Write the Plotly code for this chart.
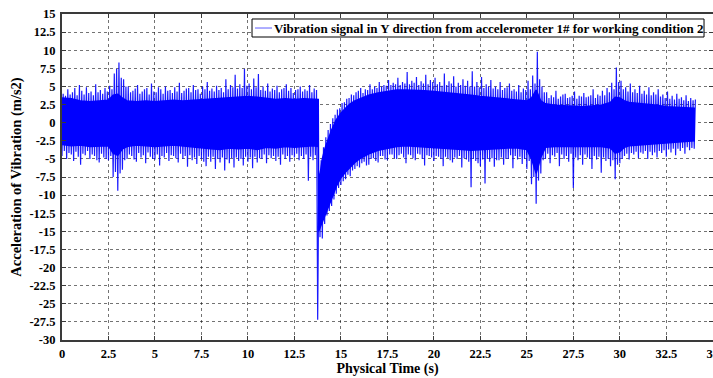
import numpy as np
import plotly.graph_objects as go

# ---- data ----
# Solid core of the vibration band (time in s, acceleration in m/s^2)
core_t = [0, 0.5, 1.0, 1.5, 2.0, 2.5, 2.75, 3.0, 3.25, 3.5, 4.0, 4.5, 5.0, 5.5, 6.0, 6.5, 7.0,
          7.5, 8.0, 8.5, 9.0, 9.5, 10.0, 10.5, 11.0, 11.5, 12.0, 12.5, 13.0, 13.5, 13.78,
          13.80, 13.9, 14.0, 14.15, 14.3, 14.5, 14.75, 15.0, 15.25, 15.5, 15.75, 16.0, 16.5,
          17.0, 17.5, 18.0, 18.5, 19.0, 19.5, 20.0, 20.5, 21.0, 21.5, 22.0, 22.5, 23.0, 23.5,
          24.0, 24.5, 25.0, 25.25, 25.5, 25.75, 26.0, 26.5, 27.0, 27.5, 28.0, 28.5, 29.0, 29.5,
          29.75, 30.0, 30.25, 30.5, 31.0, 31.5, 32.0, 32.5, 33.0, 33.5, 34.0]
core_hi = [3.4, 3.3, 3.0, 2.9, 3.0, 3.1, 3.8, 3.9, 3.4, 3.0, 2.9, 3.0, 2.9, 3.0, 3.1, 3.0, 3.1,
           3.2, 3.3, 3.3, 3.4, 3.5, 3.6, 3.5, 3.3, 3.2, 3.3, 3.2, 3.3, 3.2, 3.2,
           -8.5, -6.5, -5.0, -3.5, -2.3, -1.0, 0.4, 1.3, 2.0, 2.6, 3.0, 3.3, 3.8,
           4.1, 4.3, 4.5, 4.5, 4.5, 4.4, 4.3, 4.2, 4.0, 3.9, 3.8, 3.6, 3.5, 3.4,
           3.3, 3.1, 3.0, 3.4, 4.5, 3.0, 2.6, 2.4, 2.3, 2.2, 2.2, 2.3, 2.4, 2.8,
           3.5, 3.4, 3.0, 2.8, 2.7, 2.6, 2.4, 2.2, 2.1, 2.0, 2.0]
core_lo = [-3.0, -3.2, -3.1, -3.3, -3.2, -3.2, -4.2, -4.5, -3.6, -3.3, -3.1, -3.2, -3.3, -3.2, -3.1, -3.3, -3.4,
           -3.5, -3.6, -3.7, -3.5, -3.6, -3.5, -3.7, -3.4, -3.5, -3.3, -3.4, -3.3, -3.2, -3.3,
           -15.0, -14.5, -13.8, -12.8, -11.8, -10.5, -8.8, -7.6, -6.8, -6.1, -5.5, -5.0, -4.3,
           -3.8, -3.5, -3.3, -3.2, -3.3, -3.4, -3.5, -3.5, -3.6, -3.7, -3.8, -3.7, -3.6, -3.6,
           -3.5, -3.5, -3.7, -5.0, -7.0, -4.8, -3.4, -3.3, -3.2, -3.3, -3.2, -3.3, -3.3, -3.5,
           -4.2, -4.0, -3.4, -3.2, -3.1, -3.0, -2.9, -2.8, -2.7, -2.6, -2.5]

# Spike extremes, one pair every 0.125 s from 0 to 34 s (one row = 2 s)
peak_step = 0.125
peak_hi = [
    4.0, 3.7, 4.6, 3.9, 4.2, 4.8, 3.8, 5.2, 4.4, 3.9, 4.9, 4.1, 4.3, 3.8, 5.3, 4.2,
    4.5, 4.0, 4.8, 4.3, 5.1, 4.6, 6.8, 7.4, 8.3, 6.2, 6.0, 5.0, 5.0, 4.2, 4.4, 4.7,
    5.2, 4.0, 4.3, 4.6, 4.8, 3.9, 5.4, 4.3, 4.2, 4.9, 4.6, 4.0, 5.0, 4.4, 4.5, 4.1,
    4.9, 4.3, 5.5, 4.1, 4.4, 4.7, 4.8, 4.2, 5.2, 4.5, 4.6, 4.0, 5.0, 4.6, 5.6, 4.4,
    4.7, 4.3, 5.1, 4.5, 4.8, 4.2, 6.0, 4.6, 5.2, 4.9, 6.6, 4.7, 5.3, 4.8, 7.4, 5.1,
    5.4, 4.6, 6.1, 4.9, 6.7, 4.5, 5.0, 4.4, 5.4, 4.3, 4.7, 4.5, 5.1, 4.2, 4.6, 4.8,
    5.3, 4.4, 4.8, 4.1, 4.5, 4.6, 5.0, 4.3, 4.6, 4.4, 5.2, 4.2, 4.7, 4.5, -7.0, -5.2,
    -3.4, -2.0, -1.0, -0.2, 0.6, 1.1, 1.8, 2.0, 2.7, 2.8, 3.3, 3.4, 3.9, 3.8, 4.2, 4.4,
    4.8, 4.1, 4.6, 4.5, 5.3, 4.6, 5.0, 4.8, 5.6, 5.0, 5.2, 5.1, 5.9, 5.2, 5.5, 5.3,
    6.2, 5.2, 5.6, 5.4, 7.0, 5.3, 5.8, 5.5, 6.3, 5.2, 5.7, 5.4, 6.6, 5.3, 5.9, 5.6,
    6.2, 5.3, 5.6, 5.1, 6.8, 5.2, 5.7, 5.4, 6.4, 5.0, 5.5, 5.2, 6.0, 5.1, 5.8, 5.0,
    7.1, 5.0, 5.6, 4.9, 6.3, 4.8, 5.3, 5.0, 5.9, 4.7, 5.0, 4.6, 5.6, 4.5, 4.8, 4.9,
    5.4, 4.4, 4.6, 4.3, 5.2, 4.2, 4.7, 4.5, 5.8, 4.6, 6.5, 5.4, 9.8, 6.0, 5.0, 4.2,
    4.2, 3.4, 3.8, 3.5, 4.4, 3.3, 3.6, 3.9, 4.0, 3.4, 3.5, 3.7, 4.3, 3.3, 3.7, 3.6,
    4.1, 3.5, 3.6, 3.8, 4.6, 3.4, 3.9, 3.7, 4.4, 3.8, 4.8, 4.2, 5.5, 4.6, 7.6, 5.6,
    5.8, 4.6, 4.9, 4.3, 5.4, 4.2, 4.6, 4.1, 5.1, 4.0, 4.4, 3.9, 4.9, 3.8, 4.2, 3.9,
    4.6, 3.6, 3.9, 3.4, 4.3, 3.3, 3.7, 3.2, 4.0, 3.3, 3.5, 3.1, 3.8, 3.0, 3.4, 3.1,
    3.2]
peak_lo = [
    -4.6, -3.9, -5.0, -4.2, -4.4, -5.3, -4.0, -4.7, -5.8, -4.3, -4.5, -3.9, -5.0, -4.4, -4.6, -5.2,
    -5.5, -4.3, -4.8, -5.0, -5.2, -4.6, -7.5, -6.8, -9.4, -7.0, -6.5, -5.2, -5.0, -4.4, -4.6, -5.1,
    -5.4, -4.2, -4.8, -4.5, -5.6, -4.1, -4.7, -5.0, -5.1, -4.4, -5.9, -4.6, -4.8, -4.2, -5.3, -4.5,
    -4.6, -4.9, -5.5, -4.3, -5.0, -4.6, -6.1, -4.5, -5.2, -4.8, -5.7, -4.6, -5.0, -5.4, -6.0, -4.7,
    -5.4, -4.7, -6.4, -5.0, -5.5, -4.8, -6.6, -5.1, -5.6, -4.9, -6.2, -4.8, -5.3, -5.0, -5.9, -4.7,
    -5.4, -4.8, -6.3, -4.7, -5.5, -4.9, -5.0, -4.4, -5.6, -4.5, -4.9, -4.6, -5.3, -4.7, -5.8, -4.4,
    -5.0, -4.6, -5.4, -4.5, -4.8, -4.3, -5.2, -4.6, -5.0, -4.4, -8.0, -4.7, -5.2, -4.5, -27.2, -15.8,
    -16.0, -14.0, -12.8, -12.2, -11.5, -10.6, -9.8, -9.0, -8.6, -8.1, -7.8, -7.2, -7.4, -6.6, -6.4, -6.0,
    -6.2, -5.6, -5.4, -5.9, -5.8, -5.0, -4.9, -5.3, -5.5, -4.6, -4.6, -5.1, -5.2, -4.4, -4.4, -4.9,
    -5.0, -4.5, -4.3, -4.8, -5.6, -4.4, -4.5, -4.9, -5.2, -4.3, -4.4, -5.0, -5.9, -4.5, -4.6, -4.8,
    -5.3, -4.6, -4.7, -5.0, -6.0, -4.7, -4.9, -5.2, -5.5, -4.8, -5.0, -4.6, -6.2, -4.9, -5.1, -5.4,
    -8.9, -5.0, -5.3, -5.6, -6.0, -5.1, -8.4, -5.0, -5.4, -4.9, -6.1, -5.2, -5.2, -4.8, -5.8, -5.0,
    -5.0, -4.5, -6.3, -4.6, -5.1, -4.7, -5.7, -5.0, -6.4, -5.3, -8.5, -7.5, -11.2, -8.0, -7.0, -5.2,
    -5.0, -4.3, -5.6, -4.5, -4.7, -4.2, -6.0, -4.4, -5.0, -4.6, -5.4, -4.3, -9.0, -4.8, -5.2, -4.5,
    -5.8, -4.4, -4.8, -5.0, -6.4, -4.6, -5.1, -4.7, -6.9, -4.8, -5.3, -5.0, -6.0, -5.2, -7.8, -5.8,
    -5.6, -5.0, -4.6, -4.3, -5.1, -4.2, -4.4, -4.0, -4.9, -4.1, -4.3, -3.9, -5.0, -4.0, -4.5, -4.1,
    -4.8, -3.9, -4.2, -3.8, -4.7, -3.7, -4.1, -3.6, -4.5, -3.6, -3.9, -3.5, -4.3, -3.4, -3.8, -3.5,
    -3.6]

x_tick_vals = [0, 2.5, 5, 7.5, 10, 12.5, 15, 17.5, 20, 22.5, 25, 27.5, 30, 32.5, 35]
x_tick_text = ["0", "2.5", "5", "7.5", "10", "12.5", "15", "17.5", "20", "22.5", "25", "27.5", "30", "32.5", "35"]
y_tick_vals = [15, 12.5, 10, 7.5, 5, 2.5, 0, -2.5, -5, -7.5, -10, -12.5, -15, -17.5, -20, -22.5, -25, -27.5, -30]
y_tick_text = ["15", "12.5", "10", "7.5", "5", "2.5", "0", "-2.5", "-5", "-7.5", "-10", "-12.5", "-15",
               "-17.5", "-20", "-22.5", "-25", "-27.5", "-30"]

legend_name = "Vibration signal in Y direction from accelerometer 1# for working condition 2"

# ---- build figure ----
n = min(len(peak_hi), len(peak_lo))
peak_t = np.arange(n) * peak_step
zx, zy = [], []
for i in range(n):
    zx += [peak_t[i], peak_t[i] + peak_step / 2]
    zy += [peak_lo[i], peak_hi[i]]

FONT = "Liberation Serif"
fig = go.Figure()
fig.add_trace(go.Scatter(x=zx, y=zy, mode="lines", line=dict(color="rgba(0,0,255,0.9)", width=1.2),
                         showlegend=False, hoverinfo="skip"))
fig.add_trace(go.Scatter(x=list(core_t) + list(core_t[::-1]), y=list(core_hi) + list(core_lo[::-1]),
                         mode="lines", fill="toself", fillcolor="#0000ff",
                         line=dict(color="#0000ff", width=1.5), showlegend=False, hoverinfo="skip"))

axis_common = dict(showline=True, linecolor="#3a3a3a", linewidth=2, mirror="ticks",
                   ticks="inside", ticklen=4, tickcolor="#3a3a3a", tickwidth=1,
                   showgrid=True, gridcolor="rgba(0,0,0,0.55)", griddash="dot", gridwidth=1,
                   zeroline=False, ticklabeloverflow="allow", automargin=False,
                   tickfont=dict(family=FONT, size=12.5, color="black", weight="bold"))
fig.update_xaxes(range=[0, 35.01], tickvals=x_tick_vals, ticktext=x_tick_text, ticklabelstandoff=1,
                 title=dict(text="Physical Time (s)", standoff=3,
                            font=dict(family=FONT, size=14, color="black", weight="bold")),
                 **axis_common)
fig.update_yaxes(range=[-30, 15], tickvals=y_tick_vals, ticktext=y_tick_text, ticklabelstandoff=2,
                 title=dict(text="Acceleration of Vibration (m/s2)", standoff=4,
                            font=dict(family=FONT, size=14.5, color="black", weight="bold")),
                 **axis_common)

# legend box drawn as shapes + text (paper coordinates of the plot area)
fig.add_shape(type="rect", xref="paper", yref="paper", x0=0.2919, x1=0.9862, y0=0.9294, y1=0.9847,
              line=dict(color="black", width=1), fillcolor="white", layer="above")
fig.add_shape(type="line", xref="paper", yref="paper", x0=0.2965, x1=0.3226, y0=0.957, y1=0.957,
              line=dict(color="#7878ff", width=1.2), layer="above")
fig.add_annotation(xref="paper", yref="paper", x=0.3235, y=0.957, xanchor="left", yanchor="middle",
                   text=legend_name, showarrow=False, borderpad=0,
                   font=dict(family=FONT, size=13, color="black", weight="bold"))

fig.update_layout(width=713, height=378, margin=dict(l=62, r=0, t=14, b=38),
                  plot_bgcolor="white", paper_bgcolor="white", showlegend=False)
fig.write_html("out.html", config={"displayModeBar": False})
